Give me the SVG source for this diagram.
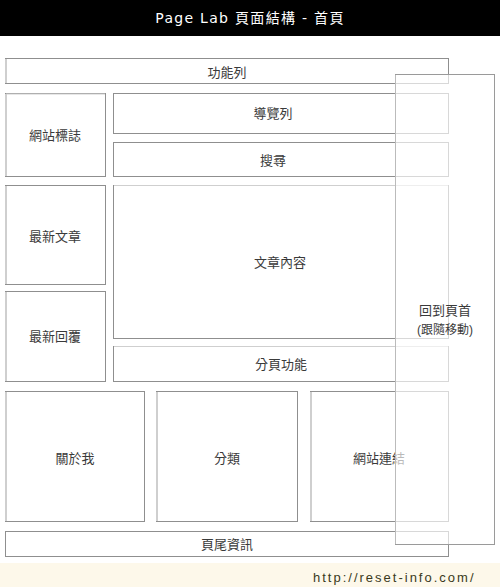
<svg xmlns="http://www.w3.org/2000/svg" width="500" height="587" viewBox="0 0 500 587">
<style>
.box{fill:#fff;stroke:#8f8f8f;stroke-width:1}
.edge{stroke:#cfcfcf;stroke-width:2}
.lbl{font-family:"Liberation Sans","Noto Sans CJK TC",sans-serif;font-size:13px;fill:#3a3a3a;text-anchor:middle;dominant-baseline:central}
.title{font-family:"DejaVu Sans","Noto Sans CJK TC",sans-serif;font-size:14px;fill:#fff;text-anchor:middle;dominant-baseline:central;letter-spacing:1.3px}
.url{font-family:"Liberation Sans",sans-serif;font-size:13px;fill:#3a3a20;letter-spacing:2px;dominant-baseline:central}
</style>
<rect x="0" y="0" width="500" height="587" fill="#fff"/>
<g id="header"><rect x="0" y="0" width="500" height="36" fill="#000"/><text class="title" x="250" y="18">Page Lab 頁面結構 - 首頁</text></g>
<g id="func"><rect class="box" x="5.5" y="58.5" width="443" height="25"/><line class="edge" x1="6" y1="59" x2="6" y2="83"/><text class="lbl" x="227" y="72">功能列</text></g>
<g id="logo"><rect class="box" x="5.5" y="93.5" width="100" height="83"/><line class="edge" x1="6" y1="94" x2="6" y2="176"/><line class="edge" x1="6" y1="94" x2="105" y2="94" style="stroke-width:1"/><text class="lbl" x="55" y="135">網站標誌</text></g>
<g id="nav"><rect class="box" x="113.5" y="93.5" width="335" height="40"/><text class="lbl" x="273" y="113">導覽列</text></g>
<g id="search"><rect class="box" x="113.5" y="142.5" width="335" height="34"/><text class="lbl" x="273" y="160">搜尋</text></g>
<g id="latest"><rect class="box" x="5.5" y="185.5" width="100" height="99"/><line class="edge" x1="6" y1="186" x2="6" y2="284"/><text class="lbl" x="55" y="236">最新文章</text></g>
<g id="content"><rect class="box" x="113.5" y="185.5" width="335" height="153"/><line class="edge" x1="114" y1="185.5" x2="448" y2="185.5" style="stroke-width:1"/><text class="lbl" x="280" y="262">文章內容</text></g>
<g id="reply"><rect class="box" x="5.5" y="291.5" width="100" height="90"/><line class="edge" x1="6" y1="292" x2="6" y2="381"/><text class="lbl" x="55" y="336">最新回覆</text></g>
<g id="paging"><rect class="box" x="113.5" y="346.5" width="335" height="35"/><line class="edge" x1="114" y1="346.5" x2="448" y2="346.5" style="stroke-width:1"/><text class="lbl" x="281" y="364">分頁功能</text></g>
<g id="about"><rect class="box" x="5.5" y="391.5" width="139" height="130"/><line class="edge" x1="6" y1="392" x2="6" y2="521"/><text class="lbl" x="75" y="458">關於我</text></g>
<g id="category"><rect class="box" x="156.5" y="391.5" width="141" height="130"/><line class="edge" x1="157" y1="392" x2="157" y2="521"/><text class="lbl" x="227" y="458">分類</text></g>
<g id="links"><rect class="box" x="310.5" y="391.5" width="138" height="130"/><line class="edge" x1="311" y1="392" x2="311" y2="521"/><text class="lbl" x="379" y="458">網站連結</text></g>
<g id="footer"><rect class="box" x="5.5" y="531.5" width="443" height="25"/><text class="lbl" x="227" y="544">頁尾資訊</text></g>
<g id="totop"><rect x="395.5" y="74.5" width="99" height="470" fill="#fff" fill-opacity="0.65" stroke="#9a9a9a" stroke-width="1"/><line x1="395.5" y1="75" x2="395.5" y2="544" stroke="#bbb" stroke-width="1"/><text class="lbl" x="445" y="310">回到頁首</text><text class="lbl" x="445" y="330" style="font-size:12px">(跟隨移動)</text></g>
<g id="bottom"><rect x="0" y="563" width="500" height="24" fill="#fdf8ea"/><text class="url" x="313" y="577">http://reset-info.com/</text></g>
<g id="connectors"></g>
</svg>
